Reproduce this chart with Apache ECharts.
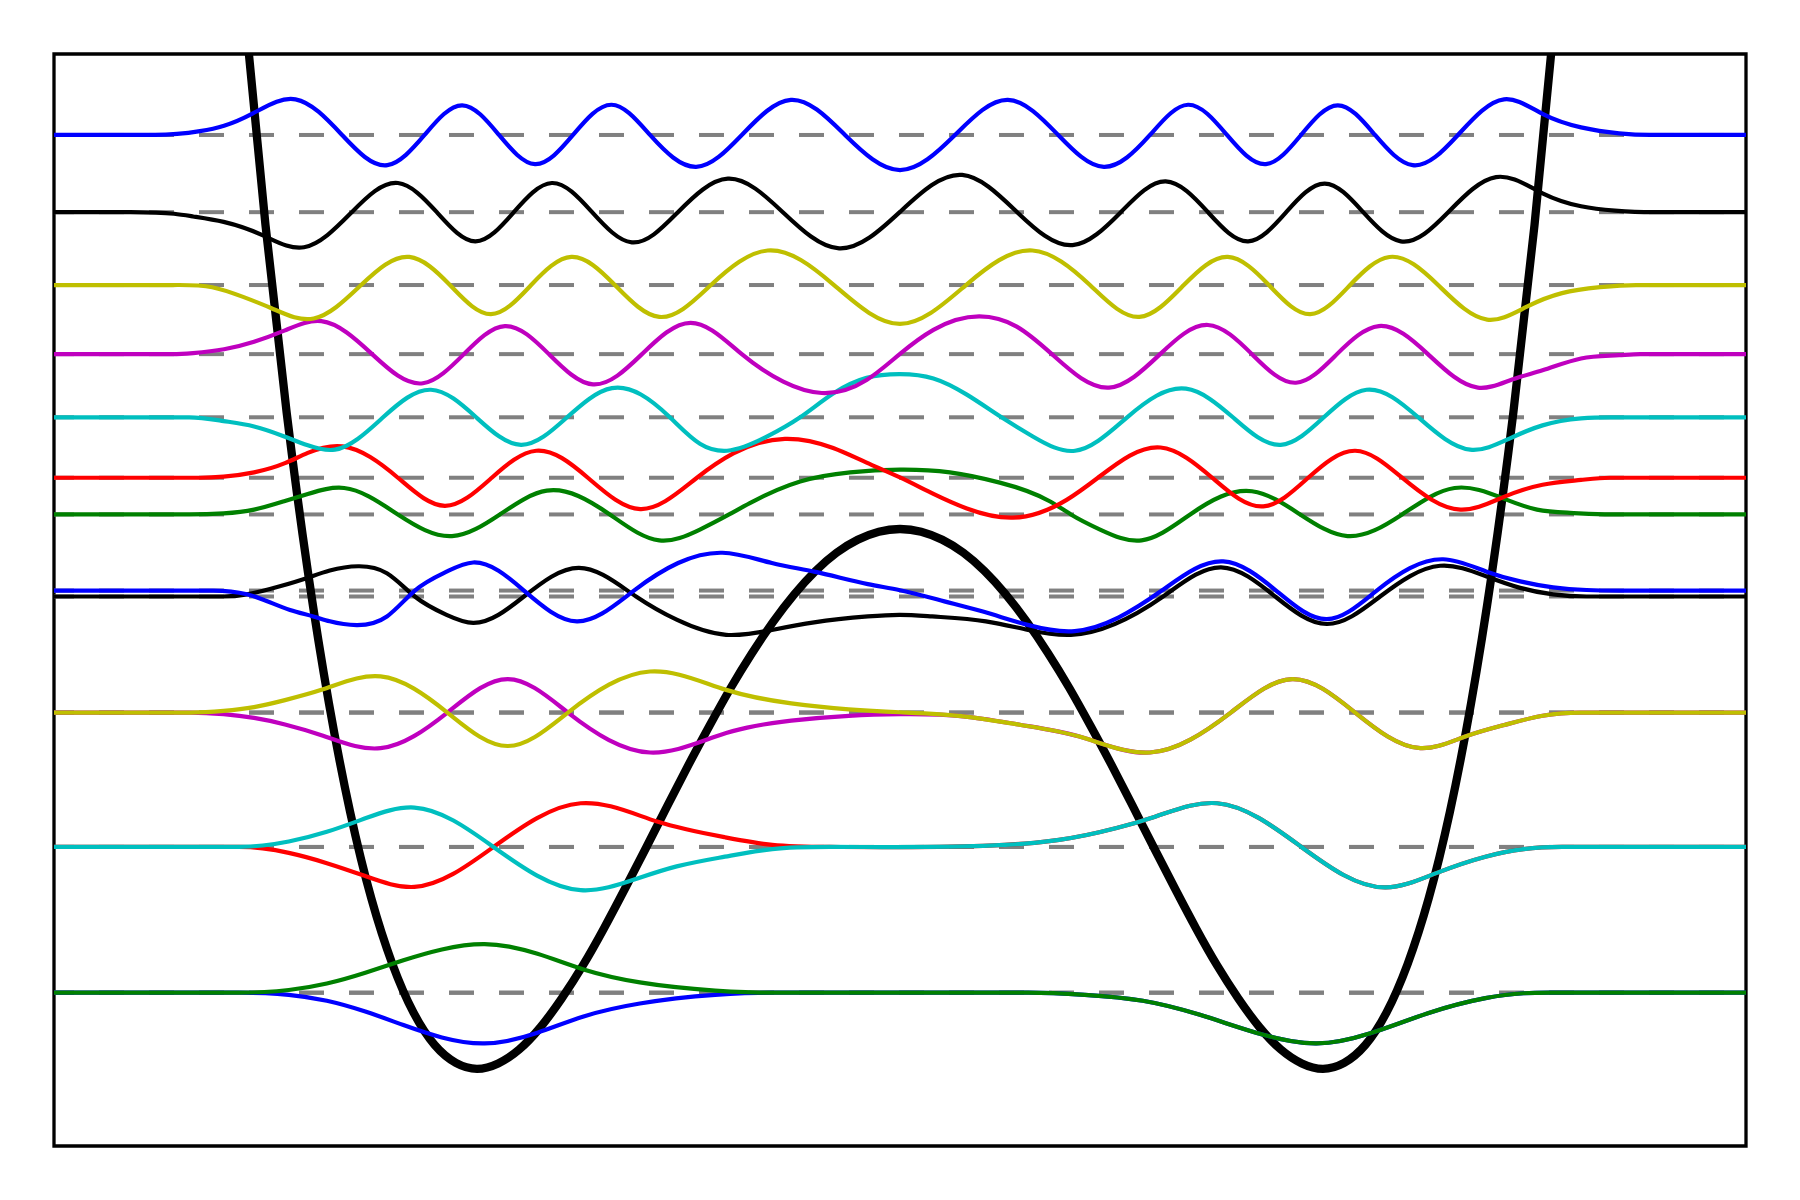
<!DOCTYPE html>
<html>
<head>
<meta charset="utf-8">
<title>Double well eigenstates</title>
<script src="https://cdn.jsdelivr.net/npm/echarts@6/dist/echarts.min.js"></script>
<style>
  html, body { margin: 0; padding: 0; background: #fff; }
  #chart { width: 1800px; height: 1200px; }
</style>
</head>
<body>
<div id="chart"></div>
<script>
// potential, read along x
const potX = [-1.6, -1.55, -1.5, -1.45, -1.4, -1.35, -1.3, -1.25, -1.2, -1.15, -1.1, -1.05, -1, -0.95, -0.9, -0.85, -0.8, -0.75, -0.7, -0.65, -0.6, -0.55, -0.5, -0.45, -0.4, -0.35, -0.3, -0.25, -0.2, -0.15, -0.1, -0.05, 0,
  0.05, 0.1, 0.15, 0.2, 0.25, 0.3, 0.35, 0.4, 0.45, 0.5, 0.55, 0.6, 0.65, 0.7, 0.75, 0.8, 0.85, 0.9, 0.95, 1, 1.05, 1.1, 1.15, 1.2, 1.25, 1.3, 1.35, 1.4, 1.45, 1.5, 1.55, 1.6]
const potV = [24.34, 19.67, 15.63, 12.16, 9.22, 6.77, 4.76, 3.16, 1.94, 1.04, 0.44, 0.11, 0, 0.10, 0.36, 0.77, 1.30, 1.91, 2.60, 3.34, 4.10, 4.87, 5.63, 6.36, 7.06, 7.70, 8.28, 8.79, 9.22, 9.56, 9.80, 9.95, 10.00,
  9.95, 9.80, 9.56, 9.22, 8.79, 8.28, 7.70, 7.06, 6.36, 5.63, 4.87, 4.10, 3.34, 2.60, 1.91, 1.30, 0.77, 0.36, 0.10, 0, 0.11, 0.44, 1.04, 1.94, 3.16, 4.76, 6.77, 9.22, 12.16, 15.63, 19.67, 24.34]

// energy of each state (dashed lines)
const levels = [1.41, 1.41, 4.11, 4.11, 6.60, 6.60, 8.75, 8.86, 10.27, 10.95, 12.07, 13.24, 14.52, 15.87, 17.30]

// wavefunctions, [x, psi] measured from their own level
const psi0 = [[-2, 0], [-1.563, 0], [-1.445, -0.04], [-1.355, -0.15], [-1.264, -0.35], [-1.174, -0.60], [-1.083, -0.83], [-0.982, -0.94], [-0.857, -0.74], [-0.748, -0.44], [-0.615, -0.20], [-0.437, -0.04], [-0.303, 0], [0.303, 0], [0.437, -0.04], [0.574, -0.15], [0.709, -0.41], [0.859, -0.78], [0.985, -0.94], [1.112, -0.75], [1.248, -0.38], [1.384, -0.10], [1.474, -0.01], [1.563, 0], [2, 0]]
const psi1 = [[-2, 0], [-1.563, 0], [-1.445, 0.05], [-1.355, 0.17], [-1.264, 0.37], [-1.174, 0.60], [-1.083, 0.80], [-0.982, 0.90], [-0.857, 0.72], [-0.748, 0.43], [-0.615, 0.19], [-0.437, 0.04], [-0.303, 0], [0.303, 0], [0.437, -0.04], [0.574, -0.15], [0.709, -0.41], [0.859, -0.78], [0.985, -0.94], [1.112, -0.75], [1.248, -0.38], [1.384, -0.10], [1.474, -0.01], [1.563, 0], [2, 0]]
const psi2 = [[-2, 0], [-1.563, 0], [-1.445, -0.11], [-1.355, -0.30], [-1.264, -0.54], [-1.148, -0.74], [-0.961, 0], [-0.755, 0.81], [-0.574, 0.47], [-0.414, 0.18], [-0.302, 0.04], [-0.166, 0], [0.196, 0.02], [0.376, 0.13], [0.512, 0.35], [0.603, 0.56], [0.750, 0.81], [0.949, 0], [1.148, -0.75], [1.266, -0.49], [1.384, -0.18], [1.474, -0.04], [1.565, 0], [2, 0]]
const psi3 = [[-2, 0], [-1.563, 0], [-1.445, 0.10], [-1.355, 0.28], [-1.264, 0.53], [-1.148, 0.73], [-0.961, 0], [-0.755, -0.80], [-0.619, -0.58], [-0.528, -0.36], [-0.414, -0.18], [-0.302, -0.04], [-0.166, 0], [0.196, 0.02], [0.376, 0.13], [0.512, 0.35], [0.603, 0.56], [0.750, 0.81], [0.949, 0], [1.148, -0.75], [1.266, -0.49], [1.384, -0.18], [1.474, -0.04], [1.565, 0], [2, 0]]
const psi4 = [[-2, 0], [-1.678, 0], [-1.599, -0.03], [-1.527, -0.10], [-1.454, -0.22], [-1.364, -0.43], [-1.228, -0.66], [-1.070, 0], [-0.927, 0.62], [-0.785, 0], [-0.591, -0.74], [-0.411, -0.38], [-0.257, -0.15], [-0.121, -0.06], [0, -0.03], [0.150, -0.07], [0.286, -0.23], [0.422, -0.44], [0.591, -0.74], [0.782, 0], [0.927, 0.62], [1.076, 0], [1.230, -0.66], [1.338, -0.44], [1.429, -0.23], [1.519, -0.06], [1.608, 0], [2, 0]]
const psi5 = [[-2, 0], [-1.678, 0], [-1.599, 0.03], [-1.527, 0.10], [-1.454, 0.23], [-1.364, 0.43], [-1.228, 0.67], [-1.070, 0], [-0.927, -0.62], [-0.785, 0], [-0.591, 0.76], [-0.411, 0.42], [-0.257, 0.17], [-0.121, 0.06], [0, 0.005], [0.150, -0.07], [0.286, -0.23], [0.422, -0.44], [0.591, -0.74], [0.782, 0], [0.927, 0.62], [1.076, 0], [1.230, -0.66], [1.338, -0.44], [1.429, -0.23], [1.519, -0.06], [1.608, 0], [2, 0]]
const psi6 = [[-2, 0], [-1.600, 0], [-1.544, 0.04], [-1.466, 0.19], [-1.403, 0.34], [-1.348, 0.48], [-1.281, 0.56], [-1.213, 0.43], [-1.147, 0], [-1.072, -0.34], [-1.009, -0.49], [-0.889, 0], [-0.759, 0.53], [-0.624, 0], [-0.528, -0.43], [-0.411, -0.71], [-0.303, -0.62], [-0.203, -0.48], [-0.076, -0.37], [0, -0.34], [0.076, -0.37], [0.203, -0.46], [0.303, -0.62], [0.404, -0.71], [0.622, 0], [0.759, 0.54], [0.887, 0], [1.009, -0.51], [1.135, 0], [1.277, 0.57], [1.387, 0.37], [1.466, 0.16], [1.544, 0.04], [1.623, 0], [2, 0]]
const psi7 = [[-2, 0], [-1.624, 0], [-1.544, -0.07], [-1.505, -0.17], [-1.442, -0.36], [-1.387, -0.48], [-1.348, -0.57], [-1.284, -0.64], [-1.213, -0.48], [-1.147, 0], [-1.072, 0.35], [-1.009, 0.52], [-0.889, 0], [-0.764, -0.57], [-0.629, 0], [-0.420, 0.70], [-0.303, 0.51], [-0.203, 0.35], [-0.076, 0.12], [0, 0.005], [0.105, -0.20], [0.196, -0.39], [0.304, -0.64], [0.413, -0.75], [0.619, 0], [0.764, 0.54], [0.889, 0], [1.009, -0.53], [1.127, 0], [1.284, 0.58], [1.387, 0.35], [1.466, 0.17], [1.544, 0.06], [1.623, 0.01], [1.702, 0], [2, 0]]
const psi8 = [[-2, 0], [-1.68, 0], [-1.599, 0.02], [-1.527, 0.09], [-1.454, 0.25], [-1.400, 0.38], [-1.314, 0.49], [-1.187, 0], [-1.059, -0.40], [-0.946, 0], [-0.835, 0.44], [-0.686, 0], [-0.569, -0.48], [-0.473, -0.28], [-0.404, 0], [-0.355, 0.21], [-0.236, 0.61], [-0.118, 0.78], [0, 0.83], [0.118, 0.78], [0.236, 0.59], [0.355, 0.24], [0.404, 0], [0.473, -0.28], [0.571, -0.48], [0.686, 0], [0.832, 0.43], [0.946, 0], [1.058, -0.40], [1.187, 0], [1.311, 0.49], [1.435, 0.27], [1.506, 0.09], [1.584, 0.03], [1.68, 0], [2, 0]]
const psi9 = [[-2, 0], [-1.655, 0], [-1.599, 0.02], [-1.527, 0.10], [-1.454, 0.27], [-1.400, 0.46], [-1.318, 0.58], [-1.187, 0], [-1.076, -0.52], [-0.965, 0], [-0.860, 0.50], [-0.738, 0], [-0.614, -0.58], [-0.480, 0], [-0.394, 0.45], [-0.272, 0.72], [-0.158, 0.55], [-0.079, 0.28], [0, 0.005], [0.079, -0.30], [0.158, -0.57], [0.267, -0.74], [0.394, -0.41], [0.468, 0], [0.616, 0.56], [0.738, 0], [0.859, -0.53], [0.965, 0], [1.076, 0.50], [1.187, 0], [1.325, -0.59], [1.429, -0.35], [1.519, -0.13], [1.610, -0.04], [1.678, 0], [2, 0]]
const psi10 = [[-2, 0], [-1.68, 0], [-1.599, -0.07], [-1.527, -0.17], [-1.454, -0.36], [-1.400, -0.52], [-1.336, -0.60], [-1.222, 0], [-1.109, 0.51], [-1.002, 0], [-0.896, -0.51], [-0.787, 0], [-0.681, 0.54], [-0.544, 0], [-0.473, -0.49], [-0.409, -0.62], [-0.315, -0.36], [-0.236, 0], [-0.158, 0.44], [-0.079, 0.73], [0, 0.80], [0.079, 0.72], [0.158, 0.42], [0.240, 0], [0.315, -0.36], [0.414, -0.62], [0.537, 0], [0.676, 0.53], [0.787, 0], [0.900, -0.51], [1.002, 0], [1.103, 0.51], [1.225, 0], [1.348, -0.60], [1.442, -0.39], [1.519, -0.15], [1.610, -0.02], [1.68, 0], [2, 0]]
const psi11 = [[-2, 0], [-1.72, 0], [-1.671, 0.02], [-1.598, 0.09], [-1.527, 0.23], [-1.454, 0.44], [-1.368, 0.61], [-1.248, 0], [-1.128, -0.54], [-1.031, 0], [-0.934, 0.52], [-0.830, 0], [-0.726, -0.56], [-0.610, 0], [-0.495, 0.58], [-0.374, 0], [-0.276, -0.51], [-0.185, -0.72], [-0.079, -0.48], [0, 0.005], [0.079, 0.45], [0.187, 0.70], [0.276, 0.51], [0.359, 0], [0.494, -0.62], [0.615, 0], [0.728, 0.54], [0.832, 0], [0.936, -0.53], [1.033, 0], [1.132, 0.52], [1.248, 0], [1.366, -0.62], [1.447, -0.47], [1.519, -0.30], [1.610, -0.08], [1.700, -0.02], [1.75, 0], [2, 0]]
const psi12 = [[-2, 0], [-1.72, 0], [-1.626, -0.04], [-1.553, -0.22], [-1.486, -0.43], [-1.386, -0.62], [-1.274, 0], [-1.160, 0.52], [-1.064, 0], [-0.967, -0.54], [-0.872, 0], [-0.777, 0.52], [-0.674, 0], [-0.569, -0.59], [-0.447, 0], [-0.313, 0.64], [-0.156, 0], [0, -0.72], [0.156, 0], [0.313, 0.64], [0.449, 0], [0.566, -0.59], [0.671, 0], [0.775, 0.52], [0.872, 0], [0.970, -0.54], [1.064, 0], [1.157, 0.52], [1.272, 0], [1.388, -0.64], [1.482, -0.40], [1.565, -0.15], [1.655, -0.04], [1.74, 0], [2, 0]]
const psi13 = [[-2, 0], [-1.82, 0], [-1.716, -0.03], [-1.671, -0.08], [-1.599, -0.18], [-1.506, -0.43], [-1.409, -0.65], [-1.296, 0], [-1.187, 0.54], [-1.095, 0], [-1.004, -0.54], [-0.913, 0], [-0.823, 0.54], [-0.728, 0], [-0.634, -0.56], [-0.525, 0], [-0.407, 0.62], [-0.277, 0], [-0.144, -0.67], [0, 0.005], [0.147, 0.69], [0.277, 0], [0.408, -0.61], [0.522, 0], [0.628, 0.57], [0.728, 0], [0.823, -0.54], [0.913, 0], [1.004, 0.53], [1.095, 0], [1.184, -0.54], [1.296, 0], [1.409, 0.65], [1.519, 0.35], [1.610, 0.11], [1.690, 0.03], [1.78, 0], [2, 0]]
const psi14 = [[-2, 0], [-1.761, 0], [-1.655, 0.07], [-1.598, 0.17], [-1.532, 0.39], [-1.429, 0.66], [-1.319, 0], [-1.212, -0.56], [-1.124, 0], [-1.035, 0.55], [-0.948, 0], [-0.863, -0.54], [-0.773, 0], [-0.682, 0.56], [-0.591, 0], [-0.482, -0.59], [-0.374, 0], [-0.258, 0.65], [-0.130, 0], [0, -0.65], [0.130, 0], [0.255, 0.65], [0.374, 0], [0.482, -0.59], [0.591, 0], [0.681, 0.56], [0.773, 0], [0.865, -0.54], [0.948, 0], [1.035, 0.55], [1.123, 0], [1.212, -0.56], [1.319, 0], [1.428, 0.66], [1.519, 0.39], [1.610, 0.14], [1.700, 0.03], [1.773, 0], [2, 0]]

const psiList = [psi0, psi1, psi2, psi3, psi4, psi5, psi6, psi7, psi8, psi9, psi10, psi11, psi12, psi13, psi14]

// matplotlib colour cycle b g r c m y k
const colors = ['#0000ff', '#008000', '#ff0000', '#00bfbf', '#bf00bf', '#bfbf00', '#000000']

// cubic spline through pixel points (x increasing), clamped flat at the ends when asked
function splinePiece(p, clampStart, clampEnd) {
  const n = p.length
  if (n === 2) return ` L${p[1][0]} ${p[1][1]}`
  const h = [], d = []
  for (let i = 0; i < n - 1; i++) {
    h.push(p[i + 1][0] - p[i][0])
    d.push((p[i + 1][1] - p[i][1]) / h[i])
  }
  const a = new Array(n).fill(0), b = new Array(n).fill(0), c = new Array(n).fill(0), r = new Array(n).fill(0)
  if (clampStart) { b[0] = 2 * h[0]; c[0] = h[0]; r[0] = 6 * d[0] } else { b[0] = 1 }
  for (let i = 1; i < n - 1; i++) {
    a[i] = h[i - 1]; b[i] = 2 * (h[i - 1] + h[i]); c[i] = h[i]; r[i] = 6 * (d[i] - d[i - 1])
  }
  if (clampEnd) { a[n - 1] = h[n - 2]; b[n - 1] = 2 * h[n - 2]; r[n - 1] = -6 * d[n - 2] } else { b[n - 1] = 1 }
  for (let i = 1; i < n; i++) {
    const w = a[i] / b[i - 1]
    b[i] -= w * c[i - 1]
    r[i] -= w * r[i - 1]
  }
  const M = new Array(n)
  M[n - 1] = r[n - 1] / b[n - 1]
  for (let i = n - 2; i >= 0; i--) M[i] = (r[i] - c[i] * M[i + 1]) / b[i]
  let s = ''
  for (let i = 0; i < n - 1; i++) {
    const m0 = d[i] - h[i] * (2 * M[i] + M[i + 1]) / 6
    const m1 = d[i] + h[i] * (M[i] + 2 * M[i + 1]) / 6
    s += ` C${p[i][0] + h[i] / 3} ${p[i][1] + m0 * h[i] / 3} ${p[i + 1][0] - h[i] / 3} ${p[i + 1][1] - m1 * h[i] / 3} ${p[i + 1][0]} ${p[i + 1][1]}`
  }
  return s
}

// flat stretches (two points on the level) are drawn straight, the rest as splines
function buildPath(px, onLevel) {
  const n = px.length
  let s = `M${px[0][0]} ${px[0][1]}`
  let i = 0
  while (i < n - 1) {
    if (onLevel[i] && onLevel[i + 1]) {
      s += ` L${px[i + 1][0]} ${px[i + 1][1]}`
      i++
      continue
    }
    let j = i + 1
    while (j < n - 1 && !(onLevel[j] && onLevel[j + 1])) j++
    s += splinePiece(px.slice(i, j + 1), i > 0, j < n - 1)
    i = j
  }
  return s
}

function curveSeries(points, onLevel, color, width) {
  return {
    type: 'custom',
    coordinateSystem: 'cartesian2d',
    clip: true,
    silent: true,
    z: 3,
    data: [[0, 0]],
    renderItem: (params, api) => {
      const px = points.map(q => api.coord(q))
      return {
        type: 'path',
        shape: { pathData: buildPath(px, onLevel) },
        style: { fill: 'none', stroke: color, lineWidth: width, lineJoin: 'round' }
      }
    }
  }
}

const chart = echarts.init(document.getElementById('chart'))

const series = []

// dashed line at every level, kept under the curves
levels.forEach(E => {
  series.push({
    type: 'line',
    z: 1,
    data: [[-2, E], [2, E]],
    showSymbol: false,
    silent: true,
    lineStyle: { color: '#808080', width: 4, type: [25, 25], dashOffset: 5 }
  })
})

// potential
series.push(curveSeries(potX.map((x, i) => [x, potV[i]]), potX.map(() => false), '#000000', 8.3))

// states shifted up to their level
psiList.forEach((psi, i) => {
  series.push(curveSeries(
    psi.map(([x, p]) => [x, levels[i] + p]),
    psi.map(([x, p]) => p === 0),
    colors[i % colors.length],
    4.2
  ))
})

chart.setOption({
  animation: false,
  backgroundColor: '#ffffff',
  grid: {
    left: 54,
    right: 54,
    top: 54,
    bottom: 54,
    show: true,
    borderColor: '#000000',
    borderWidth: 3.3,
    backgroundColor: 'transparent'
  },
  xAxis: { type: 'value', min: -2, max: 2, show: false },
  yAxis: { type: 'value', min: -1.43, max: 18.8, show: false },
  series
})
</script>
</body>
</html>
